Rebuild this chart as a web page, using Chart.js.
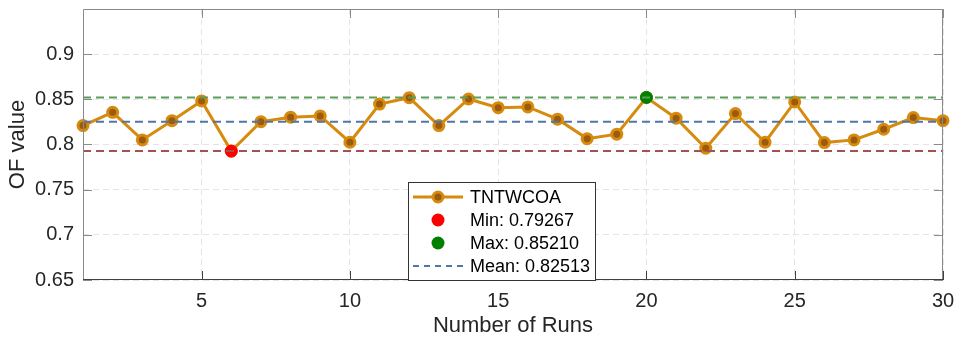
<!DOCTYPE html>
<html>
<head>
<meta charset="utf-8">
<script src="https://cdn.jsdelivr.net/npm/chart.js@4.4.1/dist/chart.umd.min.js"></script>
<style>
  html, body { margin: 0; padding: 0; background: #fff; }
  #wrap { width: 954px; height: 340px; }
</style>
</head>
<body>
<div id="wrap"><canvas id="c" width="954" height="340"></canvas></div>
<script>
// Objective-function value of each independent run
const runs = [1,2,3,4,5,6,7,8,9,10,11,12,13,14,15,16,17,18,19,20,21,22,23,24,25,26,27,28,29,30];
const ofValues = [
  0.8209, 0.8356, 0.8051, 0.8264, 0.8482, 0.79267, 0.8253, 0.8302, 0.8316, 0.8025,
  0.8447, 0.8518, 0.8209, 0.8504, 0.8408, 0.8416, 0.8280, 0.8065, 0.8114, 0.85210,
  0.8291, 0.7959, 0.8342, 0.8025, 0.8471, 0.8021, 0.8051, 0.8169, 0.8298, 0.8264
];
const seriesName = 'TNTWCOA';

// Summary statistics
const minRun = [6];
const minValue = [0.79267];
const maxRun = [20];
const maxValue = [0.85210];
const meanValue = [0.82513];

// Axis ticks
const xTicks = [5, 10, 15, 20, 25, 30];
const yTicks = [0.65, 0.7, 0.75, 0.8, 0.85, 0.9];
const xRange = [1, 30];
const yRange = [0.65, 0.95];

const TEXT = '#262626';
const FONT = 'Liberation Sans, Arial, Helvetica, sans-serif';
const LINE_ORANGE = '#D68B0E';
const MARKER_FILL = '#9B5A0C';

function hLine(v) {
  return [{x: xRange[0], y: v}, {x: xRange[1], y: v}];
}

// Box outline with inward tick marks on all four sides
const boxAxes = {
  id: 'boxAxes',
  afterDatasetsDraw(chart) {
    const {ctx, chartArea: a, scales: {x, y}} = chart;
    const L = 9;
    ctx.save();
    ctx.lineWidth = 1;
    ctx.strokeStyle = '#8a8a8a';
    ctx.beginPath();
    ctx.moveTo(a.left + 0.5, a.bottom); ctx.lineTo(a.left + 0.5, a.top + 0.5);
    ctx.lineTo(a.right - 0.5, a.top + 0.5); ctx.lineTo(a.right - 0.5, a.bottom);
    yTicks.forEach(v => {
      const py = Math.round(y.getPixelForValue(v)) + 0.5;
      ctx.moveTo(a.left, py); ctx.lineTo(a.left + L, py);
      ctx.moveTo(a.right, py); ctx.lineTo(a.right - L, py);
    });
    xTicks.forEach(v => {
      const px = Math.round(x.getPixelForValue(v)) + 0.5;
      ctx.moveTo(px, a.top); ctx.lineTo(px, a.top + L);
    });
    ctx.stroke();
    ctx.strokeStyle = '#404040';
    ctx.beginPath();
    ctx.moveTo(a.left, a.bottom - 0.5); ctx.lineTo(a.right, a.bottom - 0.5);
    xTicks.forEach(v => {
      const px = Math.round(x.getPixelForValue(v)) + 0.5;
      ctx.moveTo(px, a.bottom); ctx.lineTo(px, a.bottom - L);
    });
    ctx.stroke();
    ctx.restore();
  }
};

// Legend box inside the plot
const boxLegend = {
  id: 'boxLegend',
  afterDraw(chart) {
    const {ctx} = chart;
    const bx = 408, by = 182, bw = 188, bh = 99;
    ctx.save();
    ctx.fillStyle = '#fff';
    ctx.fillRect(bx, by, bw, bh);
    ctx.strokeStyle = '#333';
    ctx.lineWidth = 1;
    ctx.strokeRect(bx + 0.5, by + 0.5, bw - 1, bh - 1);

    const sx0 = 413, sx1 = 463, sxm = 438, tx = 470;
    const rows = [197, 220, 243, 266];
    const labels = [
      seriesName,
      'Min: ' + minValue[0].toFixed(5),
      'Max: ' + maxValue[0].toFixed(5),
      'Mean: ' + meanValue[0].toFixed(5)
    ];

    // series line with marker
    ctx.strokeStyle = LINE_ORANGE;
    ctx.lineWidth = 3;
    ctx.beginPath(); ctx.moveTo(sx0, rows[0]); ctx.lineTo(sx1, rows[0]); ctx.stroke();
    ctx.fillStyle = MARKER_FILL;
    ctx.beginPath(); ctx.arc(sxm, rows[0], 5, 0, Math.PI * 2); ctx.fill(); ctx.stroke();

    // min / max markers
    ctx.fillStyle = '#ff0000';
    ctx.beginPath(); ctx.arc(sxm, rows[1], 6.5, 0, Math.PI * 2); ctx.fill();
    ctx.fillStyle = '#008000';
    ctx.beginPath(); ctx.arc(sxm, rows[2], 6.5, 0, Math.PI * 2); ctx.fill();

    // mean dashed line
    ctx.strokeStyle = '#4F76A8';
    ctx.lineWidth = 2;
    ctx.setLineDash([6, 5]);
    ctx.beginPath(); ctx.moveTo(sx0, rows[3]); ctx.lineTo(sx1, rows[3]); ctx.stroke();
    ctx.setLineDash([]);

    ctx.fillStyle = '#000';
    ctx.font = '18px ' + FONT;
    ctx.textBaseline = 'middle';
    ctx.textAlign = 'left';
    labels.forEach((t, i) => ctx.fillText(t, tx, rows[i] + 1));
    ctx.restore();
  }
};

const dashedLine = (v, color) => ({
  type: 'line',
  data: hLine(v),
  borderColor: color,
  borderWidth: 2,
  borderDash: [8, 5],
  pointRadius: 0,
  fill: false,
  clip: false
});

const datasets = [
  dashedLine(maxValue[0], '#5A9E5A'),
  dashedLine(meanValue[0], '#4F76A8'),
  dashedLine(minValue[0], '#A25252'),
  {
    type: 'scatter',
    data: [{x: minRun[0], y: minValue[0]}],
    backgroundColor: '#ff0000',
    borderColor: '#ff0000',
    borderWidth: 1,
    pointRadius: 6,
    clip: false
  },
  {
    type: 'scatter',
    data: [{x: maxRun[0], y: maxValue[0]}],
    backgroundColor: '#008000',
    borderColor: '#008000',
    borderWidth: 1,
    pointRadius: 6,
    clip: false
  },
  {
    type: 'line',
    label: seriesName,
    data: runs.map((r, i) => ({x: r, y: ofValues[i]})),
    borderColor: LINE_ORANGE,
    borderWidth: 3,
    backgroundColor: MARKER_FILL,
    pointBackgroundColor: MARKER_FILL,
    pointBorderColor: LINE_ORANGE,
    pointBorderWidth: 3,
    pointRadius: 5,
    tension: 0,
    fill: false,
    clip: false
  }
];

new Chart(document.getElementById('c'), {
  type: 'line',
  data: {datasets},
  plugins: [boxAxes, boxLegend],
  options: {
    responsive: false,
    animation: false,
    layout: {padding: {top: 9, right: 11, left: 0, bottom: 0}},
    plugins: {legend: {display: false}, tooltip: {enabled: false}},
    scales: {
      x: {
        type: 'linear',
        min: xRange[0], max: xRange[1],
        afterBuildTicks(s) { s.ticks = xTicks.map(v => ({value: v})); },
        afterFit(s) { s.height = 60; s.paddingLeft = 0; s.paddingRight = 0; },
        ticks: {color: TEXT, font: {family: FONT, size: 20}, padding: 9, maxRotation: 0,
                callback: v => String(v)},
        grid: {color: '#e4e4e4', lineWidth: 1, drawTicks: false},
        border: {display: false, dash: [6, 4]},
        title: {display: true, text: 'Number of Runs', color: TEXT,
                font: {family: FONT, size: 22}, padding: {top: 0, bottom: 1}}
      },
      y: {
        type: 'linear',
        min: yRange[0], max: yRange[1],
        afterBuildTicks(s) { s.ticks = yTicks.map(v => ({value: v})); },
        afterFit(s) { s.width = 83; s.paddingTop = 0; s.paddingBottom = 0; },
        ticks: {color: TEXT, font: {family: FONT, size: 20}, padding: 9,
                callback: v => String(Math.round(v * 100) / 100)},
        grid: {color: '#e4e4e4', lineWidth: 1, drawTicks: false},
        border: {display: false, dash: [6, 4]},
        title: {display: true, text: 'OF value', color: TEXT,
                font: {family: FONT, size: 22}, padding: {top: 5, bottom: 0}}
      }
    }
  }
});
</script>
</body>
</html>
